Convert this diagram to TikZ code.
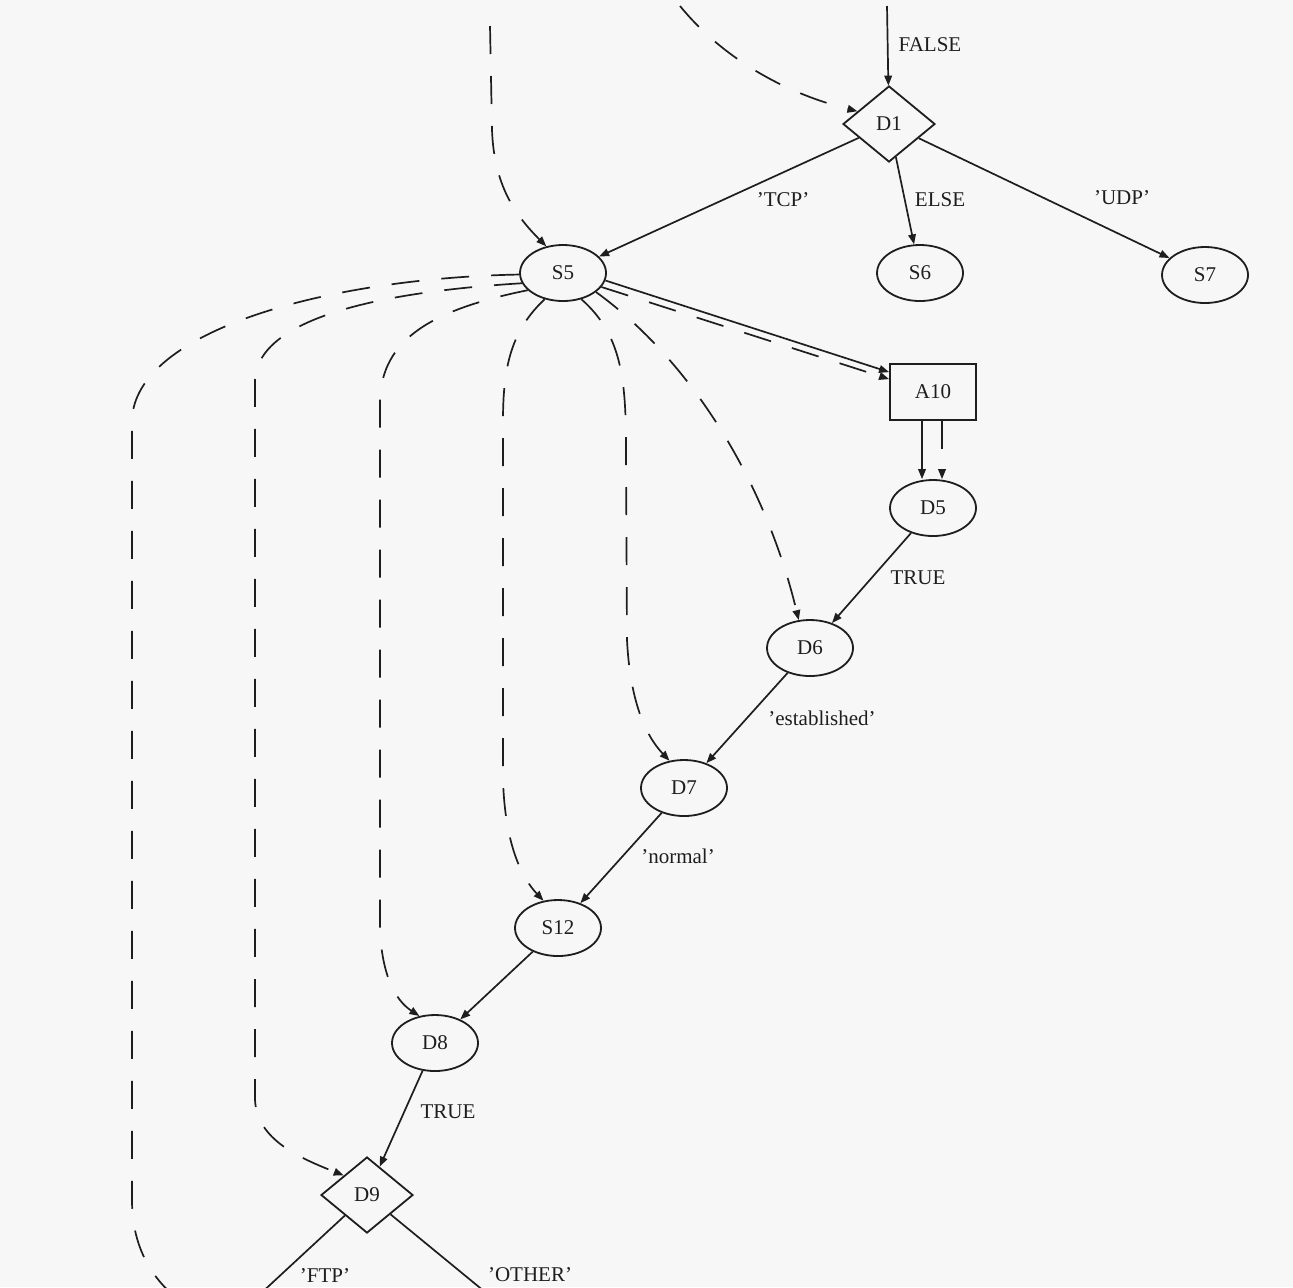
\documentclass[tikz,border=0pt]{standalone}
\usepackage{fontspec}
\setmainfont{Liberation Serif}
\usetikzlibrary{arrows.meta,shapes.geometric}
\definecolor{ink}{HTML}{1E1E1E}
\definecolor{paper}{HTML}{F7F7F7}
\begin{document}
\begin{tikzpicture}[x=0.5pt,y=-0.5pt,
  every node/.style={font=\fontsize{10.5}{12}\selectfont,text=ink},
  ell/.style={ellipse,draw=ink,line width=0.9pt,minimum width=43pt,minimum height=28pt,inner sep=0pt},
  dia/.style={diamond,draw=ink,line width=0.9pt,minimum width=46pt,minimum height=38pt,inner sep=0pt},
  boxnode/.style={rectangle,draw=ink,line width=0.9pt,minimum width=43pt,minimum height=28pt,inner sep=0pt},
  flow/.style={draw=ink,line width=0.85pt,-{Triangle[length=5pt,width=3.8pt]}},
  plainflow/.style={draw=ink,line width=0.85pt},
  dep/.style={flow,dash pattern=on 14pt off 11pt},
  plaindep/.style={plainflow,dash pattern=on 14pt off 11pt},
  lbl/.style={inner sep=1pt}
]
% canvas
\fill[paper] (0,0) rectangle (1293,1287);
\useasboundingbox (0,0) rectangle (1293,1287);

% nodes
\node[dia]     (D1)  at (889,124)  {D1};
\node[ell]     (S5)  at (563,273)  {S5};
\node[ell]     (S6)  at (920,273)  {S6};
\node[ell]     (S7)  at (1205,275) {S7};
\node[boxnode] (A10) at (933,392)  {A10};
\node[ell]     (D5)  at (933,508)  {D5};
\node[ell]     (D6)  at (810,648)  {D6};
\node[ell]     (D7)  at (684,788)  {D7};
\node[ell]     (S12) at (558,928)  {S12};
\node[ell]     (D8)  at (435,1043) {D8};
\node[dia]     (D9)  at (367,1195) {D9};

% loose ends entering / leaving the visible part
\coordinate (inTop)    at (887,6);
\coordinate (inA)      at (680,6);
\coordinate (inB)      at (490,26);
\coordinate (outFTP)   at (258,1296);
\coordinate (outOTHER) at (490,1296);
\coordinate (outS5)    at (174,1296);

% control flow (solid)
\draw[flow] (inTop) -- (D1);
\draw[flow] (D1) -- (S5);
\draw[flow] (D1) -- (S6);
\draw[flow] (D1) -- (S7);
\draw[flow] (S5.-10) -- ([yshift=-4.5pt]A10.north west);
\draw[flow] ([xshift=-5.5pt]A10.south) -- ([xshift=-5.5pt]D5.north);
\draw[flow] (D5) -- (D6);
\draw[flow] (D6) -- (D7);
\draw[flow] (D7) -- (S12);
\draw[flow] (S12) -- (D8);
\draw[flow] (D8) -- (D9);
\draw[plainflow] (D9) -- (outFTP);
\draw[plainflow] (D9) -- (outOTHER);

% dependence edges (dashed)
\draw[dep] (inA) .. controls (720,55) and (780,92) .. (D1.158);
\draw[dep] (inB) -- (492,130) .. controls (494,185) and (515,215) .. (S5.122);
\draw[dep] (S5.-20) -- ([yshift=-8pt]A10.north west);
\draw[dep] ([xshift=4.5pt]A10.south) -- ([xshift=4.5pt]D5.north);
\draw[dep] (S5.-30) .. controls (690,360) and (765,480) .. (D6.112);
\draw[dep] (S5.-55) .. controls (622,335) and (626,380) .. (626,450)
           -- (627,640) .. controls (630,700) and (645,735) .. (D7.118);
\draw[dep] (S5.-125) .. controls (512,330) and (503,365) .. (503,420)
           -- (503,780) .. controls (505,845) and (522,878) .. (S12.118);
\draw[dep] (S5.206) .. controls (430,310) and (382,340) .. (380,400)
           -- (380,930) .. controls (382,975) and (395,1000) .. (D8.120);
\draw[dep] (S5.194) .. controls (380,292) and (258,318) .. (255,380)
           -- (255,1100) .. controls (257,1140) and (300,1158) .. (D9.140);
\draw[plaindep] (S5.182) .. controls (330,278) and (135,330) .. (132,420)
           -- (132,1200) .. controls (132,1245) and (150,1275) .. (outS5);

% edge labels
\node[lbl] (lFalse)  at (930,45)   {FALSE};
\node[lbl] (lTcp)    at (783,200)  {'TCP'};
\node[lbl] (lElse)   at (940,200)  {ELSE};
\node[lbl] (lUdp)    at (1122,198) {'UDP'};
\node[lbl] (lTrue1)  at (918,578)  {TRUE};
\node[lbl] (lEst)    at (822,718)  {'established'};
\node[lbl] (lNormal) at (678,856)  {'normal'};
\node[lbl] (lTrue2)  at (448,1112) {TRUE};
\node[lbl] (lFtp)    at (325,1275) {'FTP'};
\node[lbl] (lOther)  at (530,1275) {'OTHER'};
\end{tikzpicture}
\end{document}
